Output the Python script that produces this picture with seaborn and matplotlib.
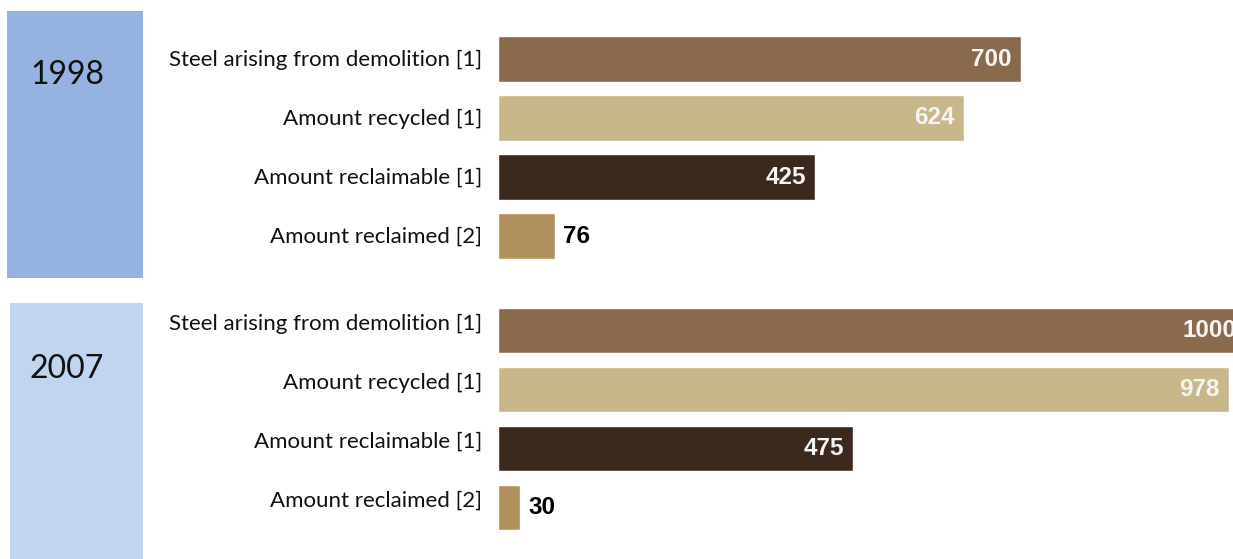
import matplotlib
matplotlib.use("Agg")
import matplotlib.pyplot as plt
import matplotlib.transforms as mtransforms
from matplotlib.patches import Rectangle
import seaborn as sns
import pandas as pd

categories = ["Steel arising from demolition [1]", "Amount recycled [1]",
              "Amount reclaimable [1]", "Amount reclaimed [2]"]
years = ["1998", "2007"]
values_1998 = [700, 624, 425, 76]
values_2007 = [1000, 978, 475, 30]
bar_colors = ["#8A6A4C", "#C8B78B", "#3C291E", "#B1915E"]
box_colors = ["#95B2E0", "#C0D5EF"]

W, H = 1233, 559
sns.set_theme(style="white")
plt.rcParams["font.family"] = ["Lato", "DejaVu Sans"]
fig = plt.figure(figsize=(W / 100, H / 100), dpi=100)

def fx(px):
    return px / W

def fy(py):
    return 1 - py / H

# panel layout in pixels: box x0, y0, x1, y1, axes top, axes bottom, year text y, label shift
panels = [
    (7, 11, 143, 278, 29.5, 265.5, 75, 1, values_1998),
    (10, 303, 143, 559, 301.5, 536.5, 369, 8.5, values_2007),
]

ax_left, ax_right = 498, 1233
px_per_unit = 0.747

for (bx0, by0, bx1, by1, at, ab, ty, shift, vals), year, bc in zip(panels, years, box_colors):
    fig.patches.append(Rectangle((fx(bx0), fy(by1)), fx(bx1 - bx0), (by1 - by0) / H,
                                 transform=fig.transFigure, facecolor=bc,
                                 edgecolor="none", zorder=0))
    fig.text(fx(67), fy(ty), year, ha="center", va="center", fontsize=23, color="#111111")

    ax = fig.add_axes([fx(ax_left), fy(ab), fx(ax_right - ax_left), (ab - at) / H])
    df = pd.DataFrame({"category": categories, "value": vals})
    sns.barplot(data=df, x="value", y="category", hue="category", palette=bar_colors,
                orient="h", width=0.77, legend=False, ax=ax, saturation=1)
    ax.set_xlim(0, (ax_right - ax_left) / px_per_unit)
    ax.set_ylim(3.5, -0.5)
    ax.set_xlabel("")
    ax.set_ylabel("")
    ax.set_xticks([])
    for s in ax.spines.values():
        s.set_visible(False)
    ax.tick_params(axis="y", length=0, pad=11.5, labelsize=16, labelcolor="#111111")
    offset = mtransforms.ScaledTranslation(0, shift / 100, fig.dpi_scale_trans)
    for lab in ax.get_yticklabels():
        lab.set_transform(lab.get_transform() + offset)
    for i, v in enumerate(vals):
        if i < 3:
            ax.annotate(str(v), xy=(v, i), xytext=(-6.5, 0), textcoords="offset points",
                        ha="right", va="center", fontsize=17.5, fontweight="bold",
                        color="#F4F4F4", family="Liberation Sans", annotation_clip=False)
        else:
            ax.annotate(str(v), xy=(v, i), xytext=(6, 0), textcoords="offset points",
                        ha="left", va="center", fontsize=17.5, fontweight="bold",
                        color="#000000", family="Liberation Sans", annotation_clip=False)

fig.savefig("out.png", dpi=100)
